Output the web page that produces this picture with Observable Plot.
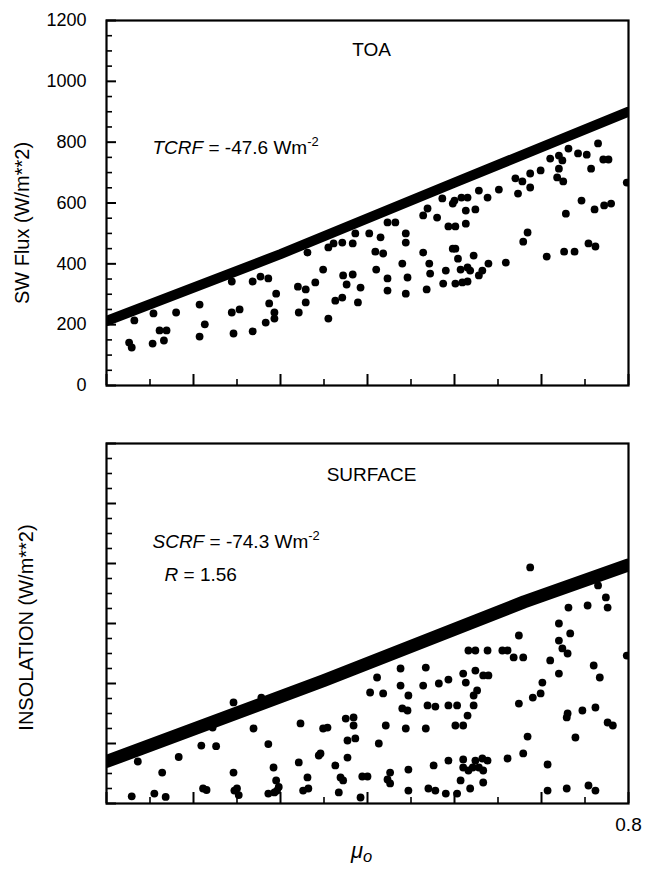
<!DOCTYPE html>
<html>
<head>
<meta charset="utf-8">
<script src="https://cdn.jsdelivr.net/npm/d3@7"></script>
<script src="https://cdn.jsdelivr.net/npm/@observablehq/plot@0.6"></script>
<style>
  html, body { margin: 0; padding: 0; background: #fff; }
  #wrap { width: 651px; height: 869px; position: relative; overflow: hidden; }
  #wrap svg { display: block; }
</style>
</head>
<body>
<div id="wrap"></div>
<script>
// ---------- data ----------
const xDomain = [0.2, 0.8];
const yDomain = [0, 1200];
const xMajor = [0.2, 0.3, 0.4, 0.5, 0.6, 0.7, 0.8];
const xMinor = [0.25, 0.35, 0.45, 0.55, 0.65, 0.75];
const xLabels = [0.8];
const yMajor = [0, 200, 400, 600, 800, 1000, 1200];
const yMinor = [50, 100, 150, 250, 300, 350, 450, 500, 550, 650, 700, 750, 850, 900, 950, 1050, 1100, 1150];
const yLabelsTop = [0, 200, 400, 600, 800, 1000, 1200];

const panelTitles = ["TOA", "SURFACE"];
const yTitles = ["SW Flux (W/m**2)", "INSOLATION (W/m**2)"];
const xTitle = ["μ", "o"];
const tcrfParts = ["TCRF", " = -47.6 Wm", "-2"];
const scrfParts = ["SCRF", " = -74.3 Wm", "-2"];
const rParts = ["R", " = 1.56"];

// clear-sky envelope (dense band of points)
const toaBandMu = [0.2, 0.4, 0.6, 0.8];
const toaBandFlux = [212, 432, 667, 900];
const sfcBandMu = [0.2, 0.45, 0.68, 0.8];
const sfcBandFlux = [140, 410, 672, 795];

// TOA scattered points
const toaMu = [
  0.226, 0.229, 0.253, 0.266, 0.261, 0.269, 0.280, 0.307, 0.313, 0.307, 0.344, 0.353, 0.346, 0.368, 0.387,
  0.395, 0.383, 0.393, 0.393, 0.368, 0.377, 0.386, 0.344, 0.254, 0.232,
  0.431, 0.455, 0.461, 0.471, 0.483, 0.486, 0.502, 0.515, 0.523, 0.532, 0.544, 0.544, 0.509, 0.518, 0.449,
  0.440, 0.420, 0.429, 0.429, 0.421, 0.455, 0.463, 0.471, 0.472, 0.483, 0.476, 0.492, 0.489, 0.510, 0.523,
  0.523, 0.544, 0.546, 0.540, 0.564, 0.568, 0.571, 0.572, 0.587, 0.590, 0.569, 0.580, 0.564, 0.586, 0.598,
  0.593, 0.598,
  0.600, 0.608, 0.615, 0.628, 0.638, 0.613, 0.624, 0.613, 0.601, 0.651, 0.673, 0.670, 0.678, 0.687, 0.687,
  0.699, 0.710, 0.720, 0.724, 0.731, 0.720, 0.718, 0.725, 0.742, 0.752, 0.765, 0.771, 0.777, 0.757, 0.746,
  0.761, 0.772, 0.780, 0.728, 0.684, 0.679, 0.706, 0.726, 0.738, 0.754, 0.762, 0.659, 0.601, 0.604, 0.607,
  0.615, 0.622, 0.618, 0.628, 0.632, 0.639, 0.609, 0.601, 0.615, 0.798
];
const toaFlux = [
  141, 125, 138, 148, 181, 181, 240, 266, 201, 161, 240, 250, 171, 178, 270,
  302, 207, 220, 240, 342, 358, 352, 342, 237, 214,
  437, 454, 467, 470, 467, 500, 500, 487, 536, 536, 500, 470, 440, 434, 381,
  339, 325, 316, 273, 240, 220, 279, 289, 362, 365, 332, 322, 273, 381, 352,
  312, 302, 355, 401, 437, 316, 401, 368, 335, 378, 582, 552, 559, 615, 598,
  523, 450,
  608, 618, 618, 641, 618, 575, 579, 532, 523, 644, 631, 681, 671, 697, 651,
  707, 746, 756, 740, 779, 713, 684, 671, 763, 759, 796, 743, 743, 713, 608,
  579, 592, 598, 565, 503, 473, 424, 440, 440, 467, 457, 404, 450, 417, 381,
  388, 427, 378, 362, 378, 401, 339, 335, 342, 667
];

// SURFACE scattered points
const sfcMu = [
  0.229, 0.255, 0.268, 0.236, 0.264, 0.283, 0.309, 0.326, 0.311, 0.315, 0.346, 0.347, 0.352, 0.346, 0.386,
  0.369, 0.392, 0.395, 0.393, 0.386, 0.378, 0.322, 0.396, 0.398, 0.421, 0.431, 0.432, 0.426, 0.444, 0.449,
  0.423, 0.350,
  0.687, 0.674, 0.720, 0.720, 0.724, 0.730, 0.733, 0.731, 0.753, 0.765, 0.774, 0.776, 0.668, 0.679, 0.655,
  0.661, 0.638, 0.624, 0.616, 0.674, 0.690, 0.699, 0.701, 0.710, 0.720, 0.760, 0.767, 0.730, 0.729, 0.747,
  0.762, 0.776, 0.782, 0.739, 0.684, 0.679, 0.661, 0.707, 0.707, 0.729, 0.754, 0.762, 0.638, 0.632, 0.624,
  0.621, 0.628, 0.633, 0.610, 0.610, 0.616, 0.633, 0.618, 0.607, 0.603, 0.593, 0.576, 0.547, 0.526, 0.526,
  0.547, 0.570, 0.578, 0.590, 0.523, 0.494, 0.500, 0.469, 0.472, 0.463, 0.477, 0.446, 0.467, 0.492, 0.513,
  0.486, 0.477, 0.475, 0.484, 0.484, 0.454, 0.521, 0.544, 0.567, 0.601, 0.615, 0.610, 0.540, 0.546, 0.569,
  0.578, 0.593, 0.603, 0.622, 0.503, 0.518, 0.538, 0.547, 0.564, 0.582, 0.593, 0.610, 0.613, 0.622, 0.626,
  0.624, 0.633, 0.639, 0.567, 0.538, 0.511, 0.798
];
const sfcFlux = [
  24, 33, 22, 140, 103, 155, 193, 191, 50, 45, 103, 43, 28, 337, 198,
  250, 120, 77, 37, 33, 353, 253, 43, 55, 137, 87, 50, 43, 160, 250,
  267, 50,
  787, 560, 600, 543, 517, 500, 567, 653, 660, 727, 687, 653, 487, 487, 510,
  510, 510, 510, 510, 333, 353, 367, 403, 477, 433, 460, 420, 300, 287, 310,
  320, 270, 260, 220, 223, 167, 150, 130, 43, 50, 60, 43, 143, 150, 143,
  120, 120, 110, 147, 120, 110, 70, 50, 77, 33, 143, 127, 113, 103, 67,
  43, 50, 43, 33, 80, 90, 90, 87, 77, 127, 153, 167, 37, 20, 200,
  217, 210, 283, 287, 260, 253, 260, 250, 250, 260, 293, 260, 317, 310, 327,
  323, 327, 327, 327, 370, 367, 393, 360, 393, 400, 413, 433, 403, 360, 377,
  443, 427, 427, 453, 450, 420, 493
];

// ---------- drawing ----------
const FONT = "'Liberation Sans', Arial, Helvetica, sans-serif";
const toRows = (a, b) => a.map((v, i) => ({mu: v, f: b[i]}));

function panel({height, marginTop, marginBottom, bandMu, bandFlux, bandWidth, mu, flux, extra}) {
  const frameW = 651 - 106 - 23;
  const frameH = height - marginTop - marginBottom;
  return Plot.plot({
    width: 651,
    height,
    marginLeft: 106,
    marginRight: 23,
    marginTop,
    marginBottom,
    x: {domain: xDomain, axis: null},
    y: {domain: yDomain, axis: null},
    style: {fontFamily: FONT, fontSize: "19px", color: "black", background: "white", overflow: "visible"},
    marks: [
      Plot.line(toRows(bandMu, bandFlux), {x: "mu", y: "f", stroke: "black", strokeWidth: bandWidth, clip: true}),
      Plot.dot(toRows(mu, flux), {x: "mu", y: "f", r: 3.9, fill: "black", stroke: "none", clip: true}),
      Plot.tickY(yMajor, {y: d => d, insetRight: frameW - 10, stroke: "black", strokeWidth: 2}),
      Plot.tickY(yMinor, {y: d => d, insetRight: frameW - 6, stroke: "black", strokeWidth: 1.6}),
      Plot.tickX(xMajor, {x: d => d, insetTop: frameH - 11, stroke: "black", strokeWidth: 2}),
      Plot.tickX(xMinor, {x: d => d, insetTop: frameH - 6, stroke: "black", strokeWidth: 1.6}),
      Plot.frame({stroke: "black", strokeWidth: 2.2}),
      ...extra
    ]
  });
}

function rich(svg, parts, builder) {
  const full = parts.join("");
  d3.select(svg).selectAll("text").each(function () {
    if (this.textContent === full) {
      const t = d3.select(this);
      t.text(null);
      builder(t, parts);
    }
  });
}
const italicSup = (t, p) => {
  t.append("tspan").attr("font-style", "italic").text(p[0]);
  t.append("tspan").text(p[1]);
  t.append("tspan").attr("dy", "-0.55em").attr("font-size", "0.68em").text(p[2]);
};
const italicOnly = (t, p) => {
  t.append("tspan").attr("font-style", "italic").text(p[0]);
  t.append("tspan").text(p[1]);
};

const topSvg = panel({
  height: 410, marginTop: 20, marginBottom: 25,
  bandMu: toaBandMu, bandFlux: toaBandFlux, bandWidth: 10, mu: toaMu, flux: toaFlux,
  extra: [
    Plot.axisY(yLabelsTop, {anchor: "left", tickSize: 0, tickPadding: 20, fontSize: 18, label: null, tickFormat: d => String(d)}),
    Plot.text([panelTitles[0]], {frameAnchor: "top-left", dx: 265, dy: 35, textAnchor: "middle", lineAnchor: "bottom", fontSize: 19}),
    Plot.text([tcrfParts.join("")], {frameAnchor: "top-left", dx: 46, dy: 133, textAnchor: "start", lineAnchor: "bottom", fontSize: 19}),
    Plot.text([yTitles[0]], {frameAnchor: "left", dx: -84, dy: 20, rotate: -90, textAnchor: "middle", fontSize: 20})
  ]
});
rich(topSvg, tcrfParts, italicSup);

const botSvg = panel({
  height: 459, marginTop: 33, marginBottom: 66,
  bandMu: sfcBandMu, bandFlux: sfcBandFlux, bandWidth: 13, mu: sfcMu, flux: sfcFlux,
  extra: [
    Plot.axisX(xLabels, {anchor: "bottom", tickSize: 0, tickPadding: 14, fontSize: 19, label: null, tickFormat: d => String(d)}),
    Plot.text([panelTitles[1]], {frameAnchor: "top-left", dx: 265, dy: 37, textAnchor: "middle", lineAnchor: "bottom", fontSize: 19}),
    Plot.text([scrfParts.join("")], {frameAnchor: "top-left", dx: 46, dy: 104, textAnchor: "start", lineAnchor: "bottom", fontSize: 19}),
    Plot.text([rParts.join("")], {frameAnchor: "top-left", dx: 58, dy: 137, textAnchor: "start", lineAnchor: "bottom", fontSize: 19}),
    Plot.text([yTitles[1]], {frameAnchor: "left", dx: -80, dy: 4, rotate: -90, textAnchor: "middle", fontSize: 20}),
    Plot.text([xTitle.join("")], {frameAnchor: "bottom", dx: -6, dy: 54, textAnchor: "middle", lineAnchor: "bottom", fontSize: 22})
  ]
});
rich(botSvg, scrfParts, italicSup);
rich(botSvg, rParts, italicOnly);
rich(botSvg, xTitle, (t, p) => {
  t.append("tspan").attr("font-style", "italic").text(p[0]);
  t.append("tspan").attr("font-style", "italic").attr("dy", "0.3em").attr("font-size", "0.75em").text(p[1]);
});

const wrap = document.getElementById("wrap");
wrap.appendChild(topSvg);
wrap.appendChild(botSvg);
</script>
</body>
</html>
